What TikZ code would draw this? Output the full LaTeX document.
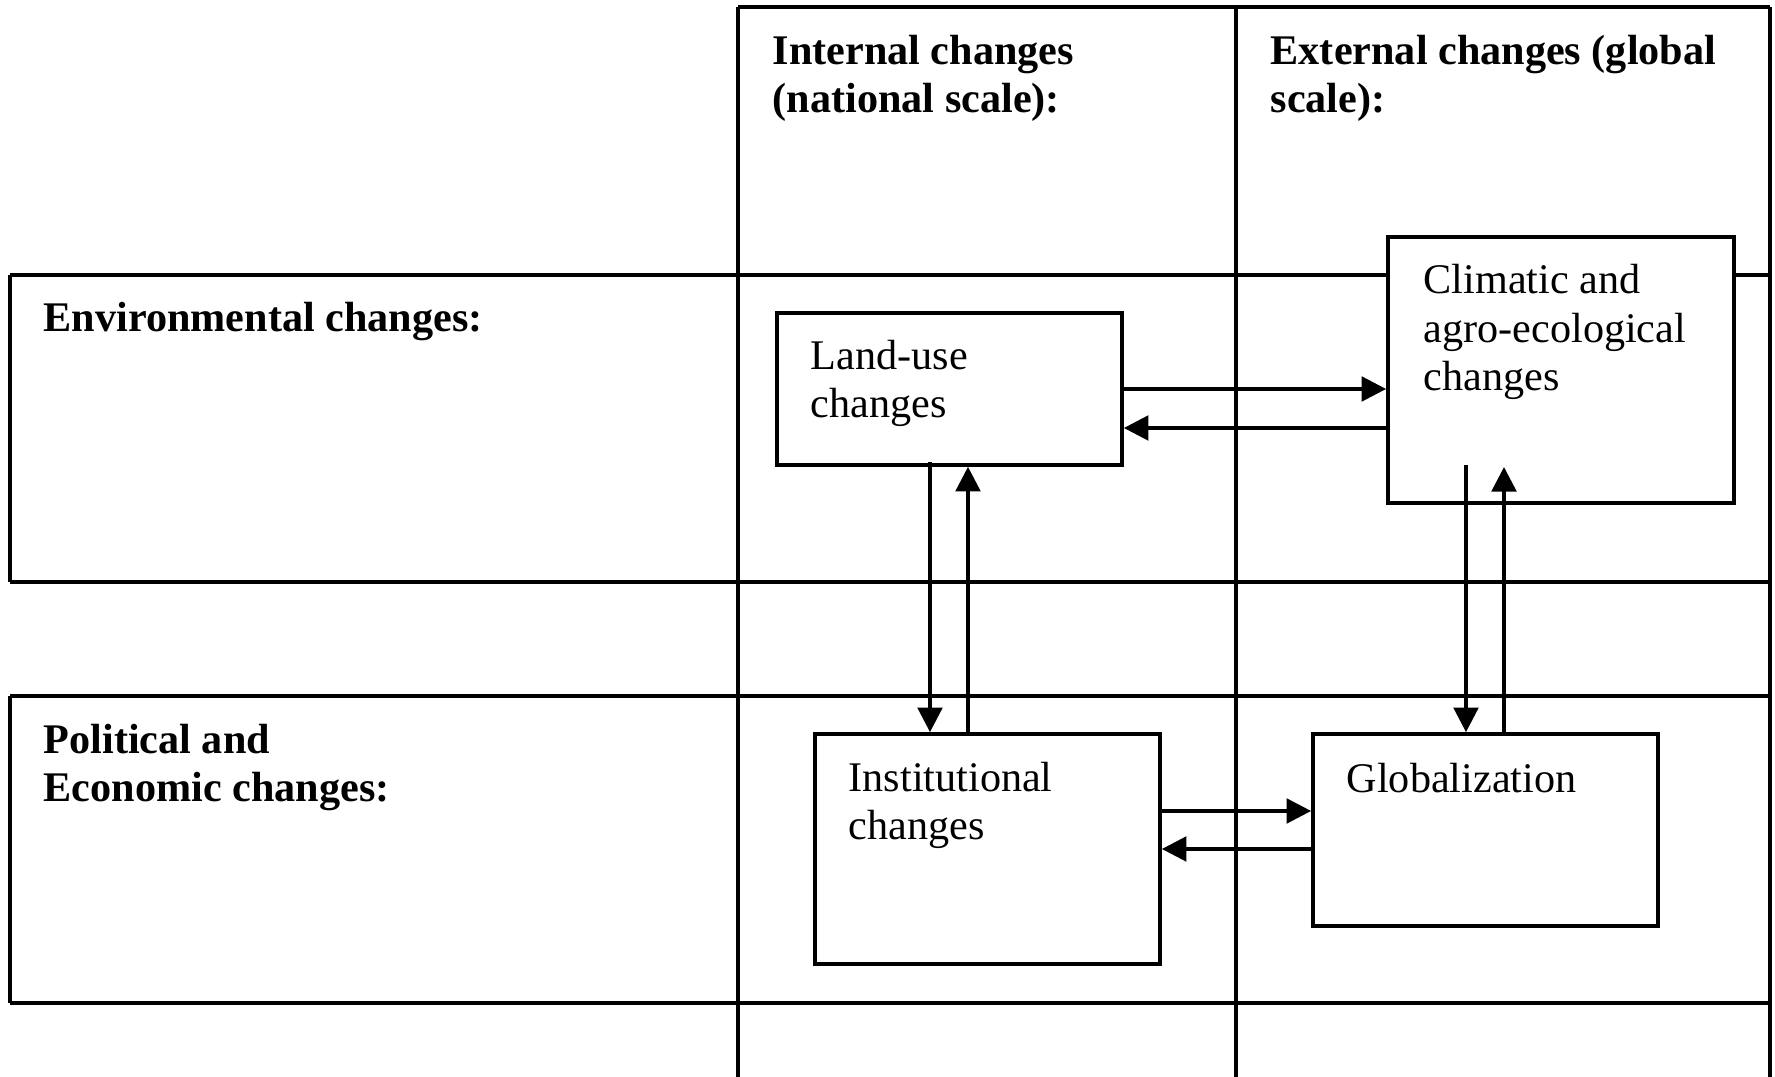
\documentclass[tikz,border=0pt]{standalone}
\usepackage{fontspec}
\setmainfont{Liberation Serif}
\usetikzlibrary{arrows.meta,calc}

\begin{document}
\begin{tikzpicture}[x=0.01cm,y=-0.01cm,
  grid/.style={line width=1pt},
  box/.style={draw,fill=white,line width=1pt,rectangle,inner sep=0pt},
  head/.style={font=\fontsize{12pt}{13.9pt}\selectfont\bfseries,align=left,anchor=base west,inner sep=0pt},
  txt/.style={font=\fontsize{12pt}{13.9pt}\selectfont,align=left,anchor=base west,inner sep=0pt},
  arr/.style={line width=1pt,-{Triangle[length=7pt,width=7pt]}}]
\useasboundingbox (0,0) rectangle (1775,1077);

% column frame
\draw[grid] (738,7) -- (1770,7);
\draw[grid] (738,7) -- (738,1077);
\draw[grid] (1236,7) -- (1236,1077);
\draw[grid] (1770,7) -- (1770,1077);

% row frames
\draw[grid] (10,275) -- (1772,275);
\draw[grid] (10,582) -- (1772,582);
\draw[grid] (10,275) -- (10,582);
\draw[grid] (10,696) -- (1772,696);
\draw[grid] (10,1003) -- (1772,1003);
\draw[grid] (10,696) -- (10,1003);

% headings (anchored at the baseline of their last line)
\node[head] (inthead) at (772,113) {Internal changes\\(national scale):};
\node[head] (exthead) at (1270,113) {External changes (global\\scale):};
\node[head] (envhead) at (43,332) {Environmental changes:};
\node[head] (polhead) at (43,802) {Political and\\Economic changes:};

% boxes
\node[box,minimum width=3.45cm,minimum height=1.52cm] (land) at (949.5,389) {};
\node[box,minimum width=3.46cm,minimum height=2.66cm] (clim) at (1561,370) {};
\node[box,minimum width=3.45cm,minimum height=2.30cm] (inst) at (987.5,849) {};
\node[box,minimum width=3.45cm,minimum height=1.92cm] (glob) at (1485.5,830) {};

% box labels
\node[txt] (landtxt) at (810,418) {Land-use\\changes};
\node[txt] (climtxt) at (1423,391) {Climatic and\\agro-ecological\\changes};
\node[txt] (insttxt) at (848,840) {Institutional\\changes};
\node[txt] (globtxt) at (1346,793) {Globalization};

% horizontal links
\draw[arr] (land.east) -- (land.east -| clim.west);
\coordinate (a) at ($(land.east)+(0,39)$);
\draw[arr] (a -| clim.west) -- (a);
\coordinate (b) at ($(inst.east)+(0,-38)$);
\draw[arr] (b) -- (b -| glob.west);
\draw[arr] (inst.east -| glob.west) -- (inst.east);

% vertical links
\coordinate (d1) at (930,462);
\draw[arr] (d1) -- (d1 |- inst.north);
\coordinate (u1) at (968,0);
\draw[arr] (u1 |- inst.north) -- (u1 |- land.south);
\coordinate (d2) at (1466,465);
\draw[arr] (d2) -- (d2 |- glob.north);
\coordinate (u2) at (1504,467);
\draw[arr] (u2 |- glob.north) -- (u2);
\end{tikzpicture}
\end{document}
